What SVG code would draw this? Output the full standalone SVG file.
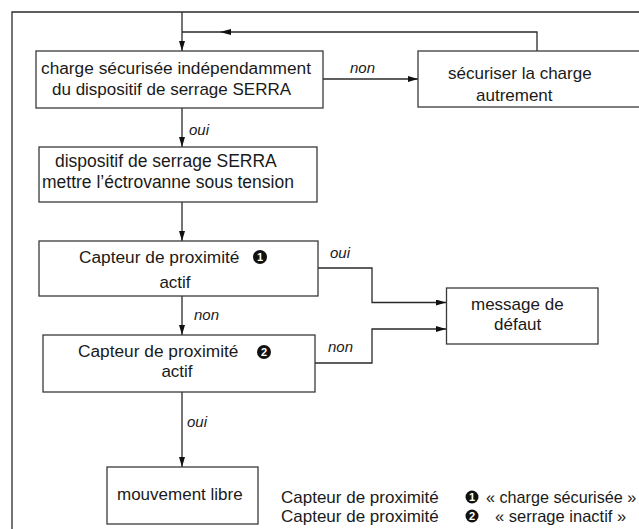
<svg xmlns="http://www.w3.org/2000/svg" width="639" height="529" viewBox="0 0 639 529">
<defs>
<style>
.box{fill:#fff;stroke:#3a3a3a;stroke-width:1.3}
.ln{fill:none;stroke:#2a2a2a;stroke-width:1.3}
.t{font-family:"Liberation Sans",Arial,sans-serif;font-size:17px;fill:#1a1a1a}
.lb{font-family:"Liberation Sans",Arial,sans-serif;font-size:15px;font-style:italic;fill:#1a1a1a}
.num{font-family:"Liberation Sans",Arial,sans-serif;font-size:11px;font-weight:bold;fill:#fff;text-anchor:middle}
.ah{fill:#111}
</style>
<marker id="arr" viewBox="0 0 10 6" refX="10" refY="3" markerWidth="10" markerHeight="6" markerUnits="userSpaceOnUse" orient="auto">
<path d="M0,0 L10,3 L0,6 Z" class="ah"/>
</marker>
</defs>
<rect width="639" height="529" fill="#fff"/>
<g id="frame">
<path class="ln" d="M12,529 V12 H639"/>
</g>
<g id="connectors">
<path class="ln" d="M182,12 V51" marker-end="url(#arr)"/>
<path class="ln" d="M537,51 V32 H182"/>
<path class="ah" d="M220,32 L231,29 L231,35 Z"/>
<path class="ln" d="M323,79 H418" marker-end="url(#arr)"/>
<path class="ln" d="M182,108 V147" marker-end="url(#arr)"/>
<path class="ln" d="M182,202 V241" marker-end="url(#arr)"/>
<path class="ln" d="M182,296 V335" marker-end="url(#arr)"/>
<path class="ln" d="M182,392 V467" marker-end="url(#arr)"/>
<path class="ln" d="M318,268 H372 V302.5 H446" marker-end="url(#arr)"/>
<path class="ln" d="M315,363 H372 V329 H446" marker-end="url(#arr)"/>
<text class="lb" x="350" y="73">non</text>
<text class="lb" x="189" y="135">oui</text>
<text class="lb" x="330" y="258">oui</text>
<text class="lb" x="194" y="320">non</text>
<text class="lb" x="328" y="352">non</text>
<text class="lb" x="187" y="427">oui</text>
</g>
<g id="n1">
<rect class="box" x="36" y="51" width="287" height="57"/>
<text class="t" x="41" y="74" style="font-size:17.3px">charge sécurisée indépendamment</text>
<text class="t" x="52" y="95">du dispositif de serrage SERRA</text>
</g>
<g id="n2">
<rect class="box" x="418" y="51" width="240" height="56"/>
<text class="t" x="448" y="79">sécuriser la charge</text>
<text class="t" x="476" y="101">autrement</text>
</g>
<g id="n3">
<rect class="box" x="39" y="147" width="278" height="55"/>
<text class="t" x="55" y="167" style="font-size:17.5px">dispositif de serrage SERRA</text>
<text class="t" x="42" y="188" style="font-size:17.5px">mettre l’éctrovanne sous tension</text>
</g>
<g id="n4">
<rect class="box" x="39" y="241" width="279" height="55"/>
<text class="t" x="79" y="263" style="font-size:17.3px">Capteur de proximité</text>
<circle cx="260" cy="257" r="7" fill="#111"/>
<text class="num" x="260" y="261">1</text>
<text class="t" x="175" y="288" text-anchor="middle">actif</text>
</g>
<g id="n5">
<rect class="box" x="43" y="335" width="272" height="57"/>
<text class="t" x="78" y="357" style="font-size:17.3px">Capteur de proximité</text>
<circle cx="264" cy="352" r="7" fill="#111"/>
<text class="num" x="264" y="356">2</text>
<text class="t" x="177" y="377" text-anchor="middle">actif</text>
</g>
<g id="n6">
<rect class="box" x="446.5" y="288" width="151.5" height="56"/>
<text class="t" x="471" y="310">message de</text>
<text class="t" x="494" y="330">défaut</text>
</g>
<g id="n7">
<rect class="box" x="107" y="467" width="151" height="57"/>
<text class="t" x="117" y="500">mouvement libre</text>
</g>
<g id="legend">
<text class="t" x="281" y="503">Capteur de proximité</text>
<circle cx="472" cy="497" r="6.5" fill="#111"/>
<text class="num" x="472" y="501">1</text>
<text class="t" x="486" y="503" style="font-size:16.2px">« charge sécurisée »</text>
<text class="t" x="281" y="522">Capteur de proximité</text>
<circle cx="472" cy="516" r="6.5" fill="#111"/>
<text class="num" x="472" y="520">2</text>
<text class="t" x="495" y="522" style="font-size:16.5px">« serrage inactif »</text>
</g>
</svg>
